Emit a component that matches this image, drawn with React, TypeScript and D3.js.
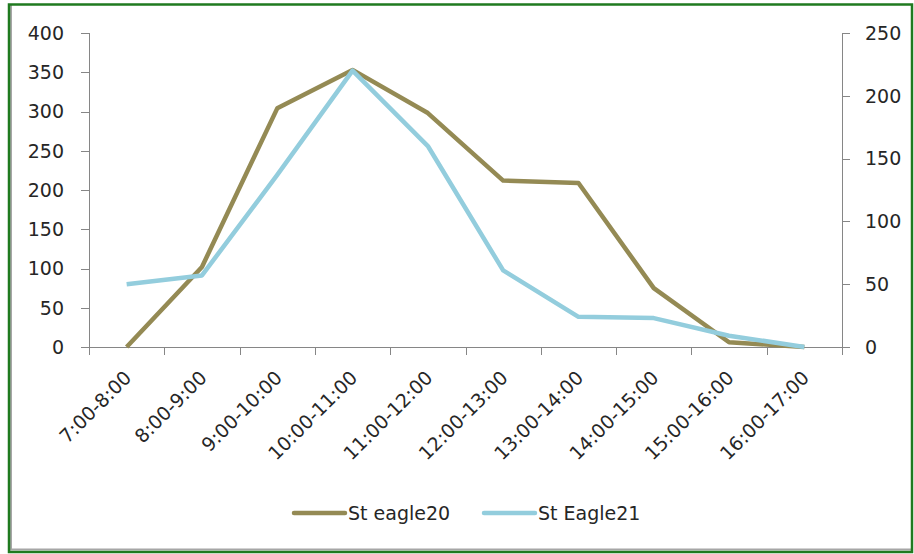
import React from "react";
import * as d3 from "d3";

const categories = ["7:00-8:00", "8:00-9:00", "9:00-10:00", "10:00-11:00", "11:00-12:00", "12:00-13:00", "13:00-14:00", "14:00-15:00", "15:00-16:00", "16:00-17:00"];
const stEagle20 = [0, 102, 304, 353, 298, 212, 209, 75, 6, 0];
const stEagle21 = [50, 57, 137, 220, 160, 61, 24, 23, 9, 0];
const leftTicks = [0, 50, 100, 150, 200, 250, 300, 350, 400];
const rightTicks = [0, 50, 100, 150, 200, 250];
const seriesNames = ["St eagle20", "St Eagle21"];

const W = 914, H = 554;
const FONT = "DejaVu Sans";
const FS = 19;
const TEXT = "#262626";
const AXIS = "#868686";
const OLIVE = "#948A54";
const BLUE = "#93CDDD";

export default function App() {
  const x0 = 89, x1 = 842, yTop = 33, yBot = 347;
  const x = d3.scaleBand<string>().domain(categories).range([x0, x1]).padding(0);
  const cx = (c: string) => (x(c) as number) + x.bandwidth() / 2;
  const yL = d3.scaleLinear().domain([0, 400]).range([yBot, yTop]);
  const yR = d3.scaleLinear().domain([0, 250]).range([yBot, yTop]);

  const lineL = d3.line<number>().x((_, i) => cx(categories[i])).y((d) => yL(d));
  const lineR = d3.line<number>().x((_, i) => cx(categories[i])).y((d) => yR(d));

  const boundaries = [...categories.map((c) => x(c) as number), x1];

  return (
    <svg width={W} height={H} style={{ position: "absolute", left: 0, top: 0, background: "#fff" }} fontFamily={FONT}>
      <rect x={0} y={0} width={W} height={H} fill="#fff" />
      {/* frame */}
      <line x1={11} y1={5} x2={11} y2={550} stroke="#a6a6a6" strokeWidth={2} />
      <line x1={10} y1={549.5} x2={912} y2={549.5} stroke="#a6a6a6" strokeWidth={2} />
      <rect x={9} y={4.5} width={903} height={547.5} fill="none" stroke="#1f7a1f" strokeWidth={2.5} />

      {/* left axis */}
      <line x1={x0 + 0.5} y1={yTop} x2={x0 + 0.5} y2={yBot} stroke={AXIS} strokeWidth={1} />
      {leftTicks.map((t) => (
        <g key={"l" + t}>
          <line x1={x0 - 8} x2={x0} y1={Math.round(yL(t)) + 0.5} y2={Math.round(yL(t)) + 0.5} stroke={AXIS} />
          <text x={x0 - 25} y={yL(t)} dy="0.36em" textAnchor="end" fontSize={FS} fill={TEXT}>{t}</text>
        </g>
      ))}
      {/* right axis */}
      <line x1={x1 + 0.5} y1={yTop} x2={x1 + 0.5} y2={yBot + 8} stroke={AXIS} strokeWidth={1} />
      {rightTicks.map((t) => (
        <g key={"r" + t}>
          <line x1={x1} x2={x1 + 8} y1={Math.round(yR(t)) + 0.5} y2={Math.round(yR(t)) + 0.5} stroke={AXIS} />
          <text x={x1 + 23} y={yR(t)} dy="0.36em" textAnchor="start" fontSize={FS} fill={TEXT}>{t}</text>
        </g>
      ))}
      {/* x axis */}
      <line x1={x0} y1={yBot + 0.5} x2={x1} y2={yBot + 0.5} stroke={AXIS} strokeWidth={1} />
      {boundaries.map((b, i) => (
        <line key={"xt" + i} x1={Math.round(b) + 0.5} x2={Math.round(b) + 0.5} y1={yBot} y2={yBot + 8} stroke={AXIS} />
      ))}
      {categories.map((c) => (
        <text key={c} transform={`translate(${cx(c) + 6},${yBot + 32}) rotate(-45)`} textAnchor="end" fontSize={FS} fill={TEXT}>{c}</text>
      ))}

      {/* series */}
      <path d={lineL(stEagle20) || ""} fill="none" stroke={OLIVE} strokeWidth={4.5} strokeLinejoin="round" />
      <path d={lineR(stEagle21) || ""} fill="none" stroke={BLUE} strokeWidth={4.5} strokeLinejoin="round" />

      {/* legend */}
      <line x1={294} x2={345} y1={513} y2={513} stroke={OLIVE} strokeWidth={4.5} strokeLinecap="round" />
      <text x={348} y={520} fontSize={FS} fill={TEXT}>{seriesNames[0]}</text>
      <line x1={484} x2={535} y1={513} y2={513} stroke={BLUE} strokeWidth={4.5} strokeLinecap="round" />
      <text x={538} y={520} fontSize={FS} fill={TEXT}>{seriesNames[1]}</text>
    </svg>
  );
}
